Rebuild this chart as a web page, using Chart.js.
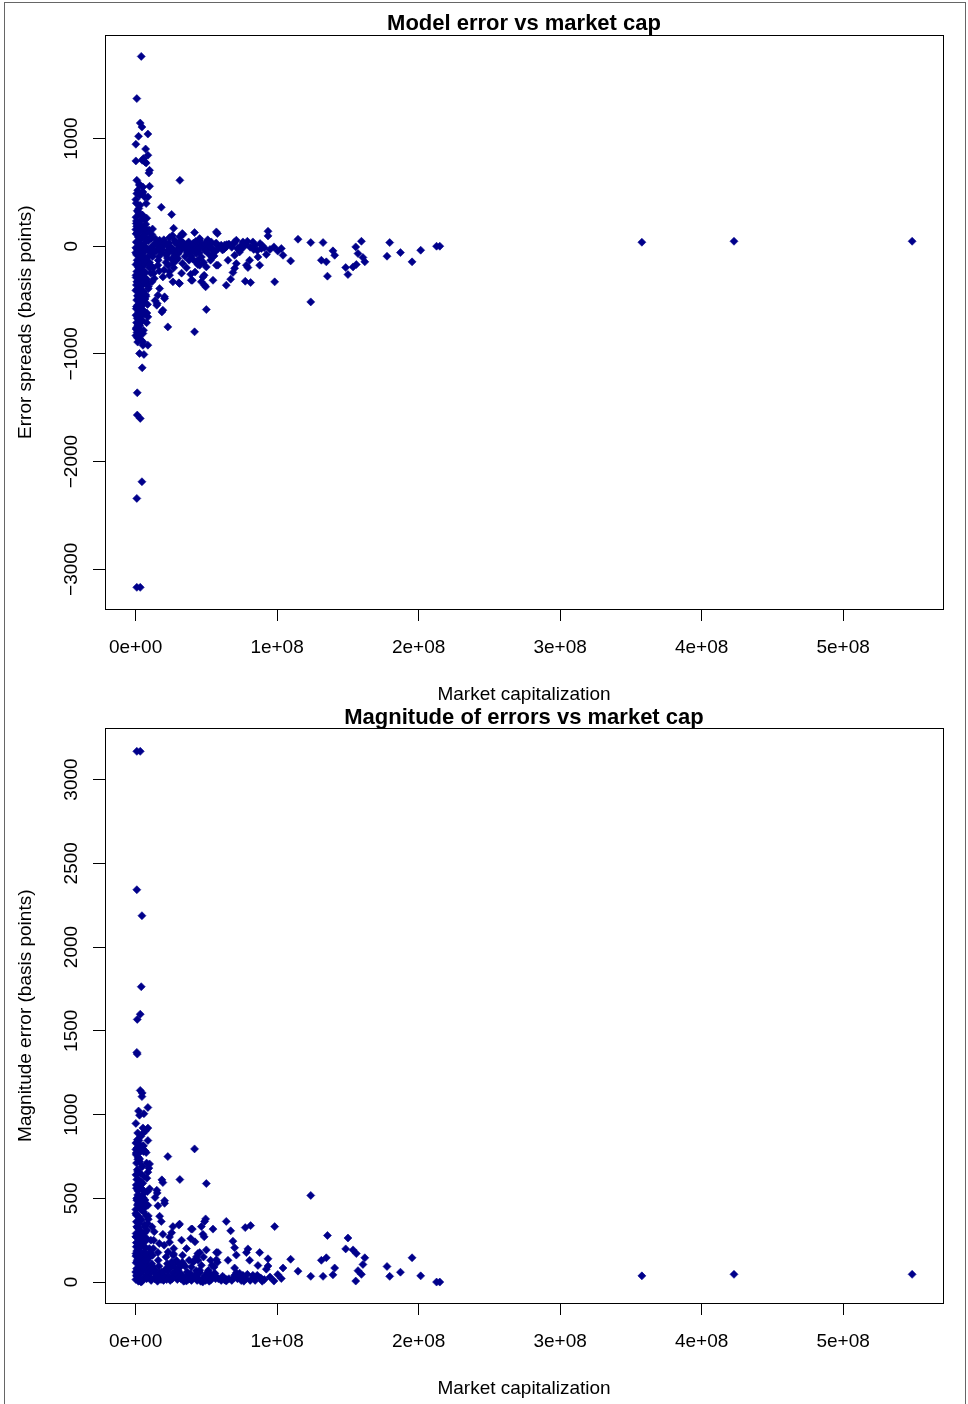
<!DOCTYPE html>
<html lang="en">
<head>
  <meta charset="UTF-8" />
  <title>Model error vs market cap</title>
  <style>
    body {
      margin: 0;
      background: #fff;
      font-family: "Liberation Sans", Arial, sans-serif;
    }

    .page {
      position: relative;
      width: 968px;
      height: 1404px;
      overflow: hidden;
    }

    .frame {
      position: absolute;
      left: 4px;
      top: 2px;
      width: 960px;
      height: 1420px;
      border: 1px solid #666;
    }

    canvas {
      position: absolute;
      left: 0;
    }

    #errChart { top: 0; }
    #magChart { top: 700px; }
  </style>
</head>
<body>
  <div class="page">
    <div class="frame"></div>
    <canvas id="errChart" width="968" height="710"></canvas>
    <canvas id="magChart" width="968" height="704"></canvas>
  </div>

  <script src="https://cdn.jsdelivr.net/npm/chart.js"></script>
  <script>
    // market cap in millions, error in basis points
    const capMillions = [
      // spike above zero
      4.0, 0.9, 3.3, 4.5, 8.7, 2.1, 0.2, 7.1, 8.7, 0.2,
      4.7, 7.5, 9.9, 9.4, 31.3, 0.9, 2.8, 5.2, 9.9, 0.9,
      4.7, 8.7, 0.2, 6.4, 7.5, 18.2, 2.3, 25.5, 4.7, 6.4,
      5.2, 0.5, 26.9, 0.2, 5.2, 5.5, 6.7, 2.8, 1.5, 5.2,
      2.8,
      // dense column near zero cap
      0.5, 3.2, 1.2, 2.4, 0.3, 3.8, 1.6, 7.2, 0.8, 4.1,
      2.2, 8.3, 0.4, 5.6, 1.9, 3.3, 9.2, 0.6, 6.1, 2.7,
      4.6, 0.2, 7.8, 1.4, 3.6, 10.5, 5.3, 0.7, 2.9, 8.6,
      4.4, 1.1, 6.8, 3.1, 0.3, 5.9, 2.0, 9.7, 4.0, 0.9,
      7.0, 2.5, 5.0, 0.4, 3.5, 8.1, 1.7, 6.3, 0.6, 4.3,
      2.3, 9.0, 0.2, 5.5, 3.0, 1.3, 7.4, 4.8, 0.8, 2.6,
      6.0, 1.6, 3.9, 0.5, 5.1, 2.1, 8.0, 0.3, 3.4, 1.2,
      4.6, 0.7, 2.8, 1.9, 0.4, 3.6, 1.0, 5.2, 0.2, 2.4,
      3.8, 1.5, 5.2, 8.7, 2.8, 5.9, 4.7, 1.2, 1.2, 3.3,
      4.5, 0.9, 0.9, 3.3,
      1.0, 6.9, 2.0, 8.9, 0.1, 4.9, 7.3, 1.8, 9.4, 3.7,
      6.6, 0.9, 8.4, 2.1, 4.1, 6.7, 9.9, 10.8, 11.3, 10.2,
      12.0, 11.6,
      1.8, 4.9, 7.9, 0.6, 3.0, 6.2, 9.5, 2.3, 5.4, 8.2,
      0.9, 3.9, 6.9, 1.4, 4.4, 7.6, 10.1, 2.6, 5.8, 0.3,
      3.3, 6.5, 9.0, 1.1, 4.2, 7.1, 2.0, 5.0, 8.5, 0.6,
      3.6, 6.0, 1.7, 4.7, 7.8, 2.9, 0.5, 5.6, 3.1, 1.3,
      8.7, 1.6, 2.8, 5.2, 6.4, 15.3, 18.6, 17.0, 20.5, 15.0,
      19.3, 22.8, 41.7, 50.0,
      // 10M - 60M
      6.4, 33.5, 41.7, 57.1, 11.1, 17.0, 27.6, 35.9, 45.3, 53.5,
      48.8, 42.9, 22.8, 29.9, 15.8, 24.0, 31.1, 39.4, 47.6, 54.7,
      48.8, 33.0, 31.1, 17.0, 22.8, 35.9, 26.4, 28.8, 19.3, 26.4,
      24.0, 30.6, 40.1, 46.5, 49.5, 45.3, 50.0, 57.1, 44.1, 54.7,
      52.3, 45.3, 13.8, 20.5, 15.8,
      13.5, 14.8, 16.5, 19.8, 21.5, 23.5, 25.2, 27.5, 29.5, 31.5,
      33.2, 35.0, 37.5, 38.8, 40.5, 43.5, 46.5, 49.5, 51.5, 53.0,
      55.5, 56.5, 12.5, 13.2, 20.2, 36.0, 42.0, 38.0, 26.0, 12.0,
      11.5, 14.0, 16.0, 18.5, 20.0, 22.5, 24.0, 26.5, 29.0, 32.0,
      34.5, 36.5, 39.5, 42.5, 45.0, 48.0, 51.0, 54.0, 56.0, 13.0,
      17.5, 21.5, 25.5, 30.0, 33.8, 37.8, 41.5, 44.0, 47.5, 52.5,
      12.8, 16.8, 23.0, 27.0, 32.5, 39.0, 43.0, 48.5,
      // close to zero error
      15.5, 18.0, 21.0, 24.5, 28.0, 30.5, 34.0, 37.0, 41.0, 44.5,
      47.0, 50.5, 52.0, 58.5, 60.5, 62.5, 66.0, 68.0, 72.0, 76.5,
      84.5, 86.0, 89.5, 95.0, 100.5,
      3.0, 8.0, 11.0, 14.5, 19.0, 22.0, 26.0, 32.0, 35.5, 39.5,
      43.0, 46.0, 49.0, 53.5, 57.0, 61.5, 64.5, 69.5, 74.0, 78.0,
      81.0, 83.5, 88.0, 91.0,
      // 55M - 140M
      57.8, 64.1, 63.0, 55.9, 58.2, 65.3, 71.2, 68.8, 67.2, 64.1,
      70.0, 73.5, 70.0, 71.2, 75.9, 79.0, 82.9, 74.7, 73.1, 78.3,
      80.6, 79.4, 77.5, 81.3, 86.5, 87.7, 88.9, 92.4, 97.8, 103.0,
      104.2, 109.6, 98.3, 93.6, 93.6, 114.8, 123.8, 132.5, 131.3, 134.8,
      135.6, 123.8, 70.0,
      // tail
      139.5, 140.7, 155.6, 159.6, 157.2, 160.7, 162.0, 148.5, 150.1, 153.7,
      156.0, 179.6, 177.7, 187.2, 195.4, 201.5, 212.7, 215.0, 357.8, 422.9,
      548.8
    ];

    const errorBps = [
      1763, 1371, 1144, 1107, 1042, 1021, 947, 903, 845, 792,
      798, 773, 705, 680, 612, 612, 566, 550, 557, 489,
      489, 458, 433, 458, 396, 362, 350, 295, 288, 248,
      257, 211, 167, 155, 148, 814, 782, 575, 520, 504,
      473,
      400, 380, 330, 300, 270, 240, 215, 205, 185, 170,
      140, 130, 115, 100, 85, 60, 50, 40, 25, 10,
      -5, -15, -20, -35, -50, -55, -65, -80, -95, -100,
      -115, -130, -140, -155, -170, -180, -195, -200, -215, -235,
      -245, -260, -275, -290, -305, -310, -325, -340, -360, -370,
      -390, -395, -410, -420, -440, -460, -465, -480, -500, -515,
      -530, -545, -560, -580, -590, -610, -620, -640, -650, -670,
      -690, -710, -720, -745, -770, -780, -800, -810, -830, -845,
      -870, -890, -920, -919, -996, -1005, -1129, -1361, -1568, -1599,
      -2187, -2342, -3168, -3168,
      120, 75, -5, -30, -60, -85, -120, -150, -165, -225,
      -295, -330, -350, -350, -445, -490, -150, -250, -20, 80,
      -95, -330,
      320, 290, 260, 235, 205, 175, 150, 125, 95, 65,
      35, 0, -30, -65, -100, -130, -175, -205, -240, -270,
      -300, -330, -375, -400, -430, -450, -470, -505, -540, -560,
      -600, -630, -660, -690, -710, -735, -760, -780, -820, -850,
      -656, -733, -795, -888, -455, -532, -610, -393, -470, -548,
      -594, -749, -795, -588,
      164, 109, 127, 133, 71, 56, 56, 16, 71, 40,
      -37, -68, -68, -114, -176, -238, -346, -316, -285, -316,
      -362, 118, 87, 25, -37, -6, -53, -130, -285, -331,
      -269, -340, -316, -331, -377, -176, -192, -176, -130, -37,
      25, 56, -505, -486, -455,
      20, -40, -95, 10, -150, 30, -20, -90, 15, -45,
      -160, -95, 40, -50, -120, 10, -100, -10, -70, -130,
      -90, 20, -200, -300, -220, -200, -240, -20, 100, 160,
      110, 70, -130, -60, 60, -110, 80, -160, -40, 50,
      -10, -60, -90, 45, -60, -150, 60, -100, -50, -60,
      -20, -80, -120, -70, 30, -130, -30, -170, 0, -10,
      -250, -230, -180, -200, -250, -260, -150, -270,
      5, -15, 25, -10, 35, -25, 5, -15, 30, -20,
      15, -30, 5, -20, 10, -25, 20, -10, -20, -5,
      10, -40, 5, -30, -45,
      15, -25, -10, 30, -35, 15, -20, 20, -30, 10,
      -35, -5, 25, -15, 30, -35, 15, 25, -35, 20,
      -10, -30, 25, -15,
      118, -6, 12, -53, -176, -130, -161, -244, -306, -362,
      -84, -53, 40, 56, 40, 46, 40, 9, -37, -176,
      -130, -198, -325, -337, -99, -176, -21, -77, -6, -21,
      -84, -136, -331, 139, 96, 65, 34, 34, -130, -145,
      -278, -517, -205,
      -43, -84, -6, 46, -68, -105, -145, -198, -263, -192,
      -170, 34, -93, -59, -145, -37, 0, 0, 37, 46,
      46
    ];

    const magnitudeBps = errorBps.map(v => Math.abs(v));

    const xTickValues = [0, 100, 200, 300, 400, 500];
    const xTickLabels = ["0e+00", "1e+08", "2e+08", "3e+08", "4e+08", "5e+08"];
    const errTickValues = [-3000, -2000, -1000, 0, 1000];
    const errTickLabels = ["\u22123000", "\u22122000", "\u22121000", "0", "1000"];
    const magTickValues = [0, 500, 1000, 1500, 2000, 2500, 3000];
    const magTickLabels = ["0", "500", "1000", "1500", "2000", "2500", "3000"];

    const FONT = "'Liberation Sans', Arial, sans-serif";
    const POINT_COLOR = "#00008b";

    // plain box round the plot area, like R's box()
    const boxPlugin = {
      id: "box",
      afterDraw(chart) {
        const { ctx, chartArea: a } = chart;
        ctx.save();
        ctx.strokeStyle = "#000";
        ctx.lineWidth = 1;
        ctx.strokeRect(Math.round(a.left) + 0.5, Math.round(a.top) + 0.5,
          Math.round(a.right - a.left), Math.round(a.bottom - a.top));
        ctx.restore();
      }
    };

    function makeChart(id, yValues, cfg) {
      const pts = capMillions.map((x, i) => ({ x: x, y: yValues[i] }));
      return new Chart(document.getElementById(id), {
        type: "scatter",
        data: {
          datasets: [{
            data: pts,
            pointStyle: "rectRot",
            pointRadius: 4,
            pointHoverRadius: 4,
            pointBackgroundColor: POINT_COLOR,
            pointBorderColor: POINT_COLOR,
            pointBorderWidth: 0.6
          }]
        },
        options: {
          responsive: false,
          animation: false,
          events: [],
          layout: { padding: { left: 0, right: 25, top: 0, bottom: 0 } },
          plugins: {
            legend: { display: false },
            tooltip: { enabled: false },
            title: {
              display: true,
              text: cfg.title,
              fullSize: false,
              color: "#000",
              font: { family: FONT, size: 22, weight: "bold", lineHeight: 1.2 },
              padding: cfg.titlePad
            }
          },
          scales: {
            x: {
              type: "linear",
              min: -21.6,
              max: 570.6,
              afterBuildTicks: s => { s.ticks = xTickValues.map(v => ({ value: v })); },
              afterFit: s => { s.height = cfg.xAxisHeight; },
              ticks: {
                color: "#000",
                font: { family: FONT, size: 19 },
                padding: 15,
                maxRotation: 0,
                autoSkip: false,
                callback: v => xTickLabels[xTickValues.indexOf(v)]
              },
              grid: { drawOnChartArea: false, drawTicks: true, tickLength: 12, color: "#000" },
              border: { display: false },
              title: {
                display: true,
                text: "Market capitalization",
                color: "#000",
                font: { family: FONT, size: 19, lineHeight: 1.2 },
                padding: { top: 0, bottom: 3.6 }
              }
            },
            y: {
              type: "linear",
              min: cfg.yMin,
              max: cfg.yMax,
              afterBuildTicks: s => { s.ticks = cfg.yTicks.map(v => ({ value: v })); },
              afterFit: s => { s.width = 105; },
              ticks: {
                color: "#000",
                font: { family: FONT, size: 19 },
                padding: cfg.yTickPad,
                minRotation: 90,
                maxRotation: 90,
                crossAlign: "center",
                autoSkip: false,
                callback: v => cfg.yLabels[cfg.yTicks.indexOf(v)]
              },
              grid: { drawOnChartArea: false, drawTicks: true, tickLength: 12, color: "#000" },
              border: { display: false },
              title: {
                display: true,
                text: cfg.yTitle,
                color: "#000",
                font: { family: FONT, size: 19, lineHeight: 1.2 },
                padding: { top: 14, bottom: 0 }
              }
            }
          }
        },
        plugins: [boxPlugin]
      });
    }

    makeChart("errChart", errorBps, {
      title: "Model error vs market cap",
      titlePad: { top: 11, bottom: -2 },
      xAxisHeight: 101,
      yMin: -3369,
      yMax: 1958,
      yTicks: errTickValues,
      yLabels: errTickLabels,
      yTickPad: -5,
      yTitle: "Error spreads (basis points)"
    });

    makeChart("magChart", magnitudeBps, {
      title: "Magnitude of errors vs market cap",
      titlePad: { top: 5, bottom: -3 },
      xAxisHeight: 101,
      yMin: -125,
      yMax: 3305,
      yTicks: magTickValues,
      yLabels: magTickLabels,
      yTickPad: 0,
      yTitle: "Magnitude error (basis points)"
    });
  </script>
</body>
</html>
